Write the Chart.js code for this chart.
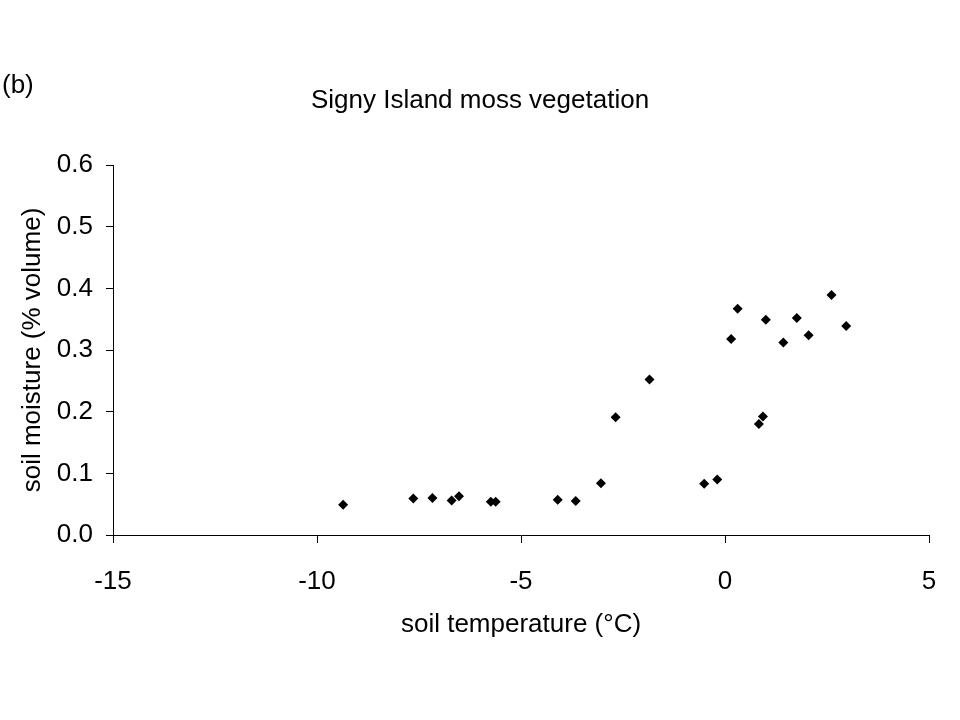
<!DOCTYPE html>
<html>
<head>
<meta charset="utf-8">
<script src="https://cdn.jsdelivr.net/npm/chart.js@4.4.1/dist/chart.umd.min.js"></script>
<style>
  html, body { margin: 0; padding: 0; background: #ffffff; }
  #wrap { width: 960px; height: 720px; }
</style>
</head>
<body>
<div id="wrap"><canvas id="c" width="960" height="720"></canvas></div>
<script>
// Data
const soilTemperature = [-9.36, -7.64, -7.17, -6.70, -6.52, -5.74, -5.62, -4.10, -3.66, -3.04,
                         -2.68, -1.85, -0.51, -0.19, 0.15, 0.31, 0.83, 0.93, 1.00, 1.43, 1.76, 2.05, 2.61, 2.97];
const soilMoisture    = [0.049, 0.059, 0.060, 0.056, 0.063, 0.054, 0.054, 0.057, 0.055, 0.084,
                         0.191, 0.252, 0.083, 0.090, 0.318, 0.367, 0.180, 0.192, 0.349, 0.312, 0.352, 0.324, 0.389, 0.339];
const xTicks = [-15, -10, -5, 0, 5];
const yTicks = [0.0, 0.1, 0.2, 0.3, 0.4, 0.5, 0.6];
const chartTitle = 'Signy Island moss vegetation';
const panelLabel = '(b)';
const xTitle = 'soil temperature (°C)';
const yTitle = 'soil moisture (% volume)';

const FONT = 'Arial, "Liberation Sans", sans-serif';
const FS = 26;

const points = soilTemperature.map((x, i) => ({ x: x, y: soilMoisture[i] }));

// Panel label and chart title, drawn on the chart canvas as text
const headerPlugin = {
  id: 'header',
  afterDraw(chart) {
    const ctx = chart.ctx;
    ctx.save();
    ctx.fillStyle = '#000';
    ctx.font = FS + 'px ' + FONT;
    ctx.textBaseline = 'middle';
    ctx.textAlign = 'left';
    ctx.fillText(panelLabel, 2, 86);
    ctx.textAlign = 'center';
    ctx.fillText(chartTitle, chart.width / 2, 101);
    ctx.restore();
  }
};

new Chart(document.getElementById('c'), {
  type: 'scatter',
  data: {
    datasets: [{
      data: points,
      pointStyle: 'rectRot',
      pointRadius: 5,
      pointHoverRadius: 5,
      backgroundColor: '#000',
      borderColor: '#000',
      borderWidth: 0
    }]
  },
  options: {
    responsive: false,
    animation: false,
    devicePixelRatio: 1,
    layout: { padding: { left: 0, right: 31, top: 165, bottom: 0 } },
    plugins: {
      legend: { display: false },
      tooltip: { enabled: false },
      title: { display: false }
    },
    scales: {
      x: {
        type: 'linear',
        min: xTicks[0],
        max: xTicks[xTicks.length - 1],
        afterFit(scale) { scale.height = 185; },
        afterBuildTicks(scale) { scale.ticks = xTicks.map(v => ({ value: v })); },
        ticks: {
          color: '#000',
          font: { family: FONT, size: FS },
          padding: 23,
          maxRotation: 0,
          callback: (v) => String(v)
        },
        grid: { display: true, drawOnChartArea: false, drawTicks: true, tickLength: 8, color: '#000', lineWidth: 1 },
        border: { display: true, color: '#000', width: 1 },
        title: {
          display: true,
          text: xTitle,
          color: '#000',
          font: { family: FONT, size: FS, lineHeight: 1.2 },
          padding: { top: 80, bottom: 80 }
        }
      },
      y: {
        type: 'linear',
        min: yTicks[0],
        max: yTicks[yTicks.length - 1],
        afterFit(scale) { scale.width = 113; },
        afterBuildTicks(scale) { scale.ticks = yTicks.map(v => ({ value: v })); },
        ticks: {
          color: '#000',
          font: { family: FONT, size: FS },
          padding: 13,
          callback: (v) => Number(v).toFixed(1)
        },
        grid: { display: true, drawOnChartArea: false, drawTicks: true, tickLength: 7, color: '#000', lineWidth: 1 },
        border: { display: true, color: '#000', width: 1 },
        title: {
          display: true,
          text: yTitle,
          color: '#000',
          font: { family: FONT, size: FS, lineHeight: 1.2 },
          padding: { top: 17, bottom: 17 }
        }
      }
    }
  },
  plugins: [headerPlugin]
});
</script>
</body>
</html>
